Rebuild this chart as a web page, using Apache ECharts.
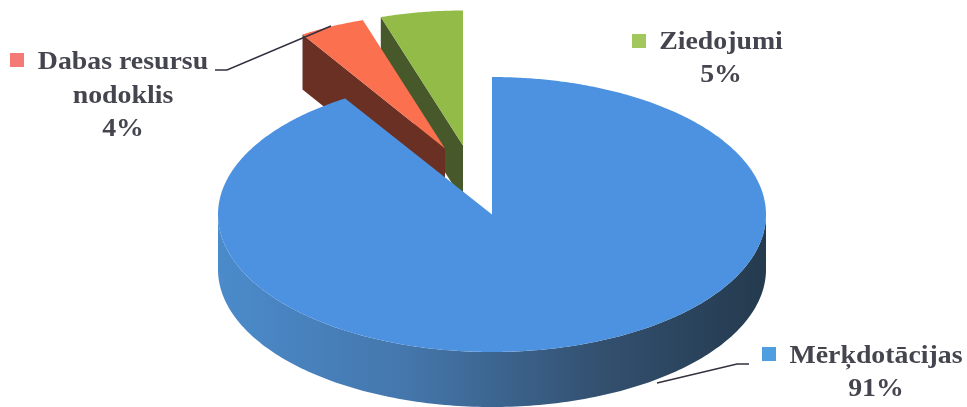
<!DOCTYPE html>
<html>
<head>
<meta charset="utf-8">
<style>
  html, body { margin: 0; padding: 0; background: #fff; }
  #chart { width: 967px; height: 407px; }
</style>
<script src="https://cdn.jsdelivr.net/npm/echarts@6/dist/echarts.min.js"></script>
</head>
<body>
<div id="chart"></div>
<script>
const categories = ['Mērķdotācijas', 'Dabas resursu\nnodoklis', 'Ziedojumi']
const values = [91, 4, 5]

const total = values.reduce((a, b) => a + b, 0)

// the pie is an ellipse with a wall below it
const cx = 492
const cy = 214.5
const depth = 55

const wallBlue = {
  type: 'linear', global: true, x: 218, y: 0, x2: 766, y2: 0,
  colorStops: [
    { offset: 0, color: '#4b8bcb' },
    { offset: 0.35, color: '#4476ab' },
    { offset: 0.7, color: '#33506f' },
    { offset: 1, color: '#243a4e' }
  ]
}

// one entry per slice, same order as categories
const sliceStyle = [
  { top: '#4d92e0', wall: wallBlue, dx: 0, dy: 0, rx: 274, ry: 137.5, z: 30 },
  { top: '#fb7150', wall: '#6a3024', dx: -47, dy: -66, rx: 266, ry: 135, z: 20 },
  { top: '#93bb48', wall: '#47592a', dx: -29, dy: -69, rx: 266, ry: 135, z: 10 }
]
const labelStyle = [
  { x: 876, y: 373, swatch: [762, 347], color: '#4f9fe0', line: [[749, 364], [737, 364], [657, 383]] },
  { x: 123, y: 96, swatch: [10, 53], color: '#f47a78', line: [[215, 70], [227, 70], [331, 26]] },
  { x: 721, y: 59, swatch: [632, 34], color: '#a2c75c' }
]

const point = (s, deg, down) => {
  const a = deg * Math.PI / 180
  return [
    cx + s.dx + s.rx * Math.sin(a),
    cy + s.dy - s.ry * Math.cos(a) + (down || 0)
  ]
}

const renderSlice = (params, api) => {
  const i = params.dataIndex
  const s = sliceStyle[i]
  const l = labelStyle[i]
  const before = values.slice(0, i).reduce((a, b) => a + b, 0)
  const start = before / total * 360
  const end = (before + api.value(0)) / total * 360
  const apex = [cx + s.dx, cy + s.dy]
  const children = []

  // radial wall, only seen when the cut faces the viewer
  if (start > 180 && start < 360) {
    const p = point(s, start)
    children.push({
      type: 'polygon',
      z2: s.z,
      shape: { points: [apex, p, [p[0], p[1] + depth], [apex[0], apex[1] + depth]] },
      style: { fill: s.wall }
    })
  }

  // outer wall, front half of the rim
  const from = Math.max(start, 90)
  const to = Math.min(end, 270)
  if (to > from) {
    const rim = []
    for (let d = from; d <= to; d += 1) rim.push(point(s, d))
    for (let d = to; d >= from; d -= 1) rim.push(point(s, d, depth))
    children.push({
      type: 'polygon',
      z2: s.z,
      shape: { points: rim },
      style: { fill: s.wall }
    })
  }

  // top face
  const face = [apex]
  for (let d = start; d < end; d += 0.5) face.push(point(s, d))
  face.push(point(s, end))
  children.push({
    type: 'polygon',
    z2: s.z + 1,
    shape: { points: face },
    style: { fill: s.top }
  })

  // label, swatch and leader line
  children.push({
    type: 'rect',
    z2: 50,
    shape: { x: l.swatch[0], y: l.swatch[1], width: 14, height: 14 },
    style: { fill: l.color }
  })
  children.push({
    type: 'text',
    z2: 50,
    x: l.x,
    y: l.y,
    scaleX: 1.07, // the scan has wide letter spacing
    style: {
      x: 0,
      y: 0,
      text: categories[i] + '\n' + api.value(0) + '%',
      fill: '#45454f',
      font: 'bold 26px "Liberation Serif"',
      lineHeight: 33.5,
      align: 'center',
      verticalAlign: 'middle'
    }
  })
  if (l.line) {
    children.push({
      type: 'polyline',
      z2: 50,
      shape: { points: l.line },
      style: { fill: 'none', stroke: '#35303f', lineWidth: 1.5 }
    })
  }
  return { type: 'group', children: children }
}

const chart = echarts.init(document.getElementById('chart'))
chart.setOption({
  backgroundColor: '#fff',
  animation: false,
  series: [
    {
      type: 'custom',
      coordinateSystem: 'none',
      renderItem: renderSlice,
      data: categories.map((name, i) => ({ name: name, value: values[i] }))
    }
  ]
})
</script>
</body>
</html>
